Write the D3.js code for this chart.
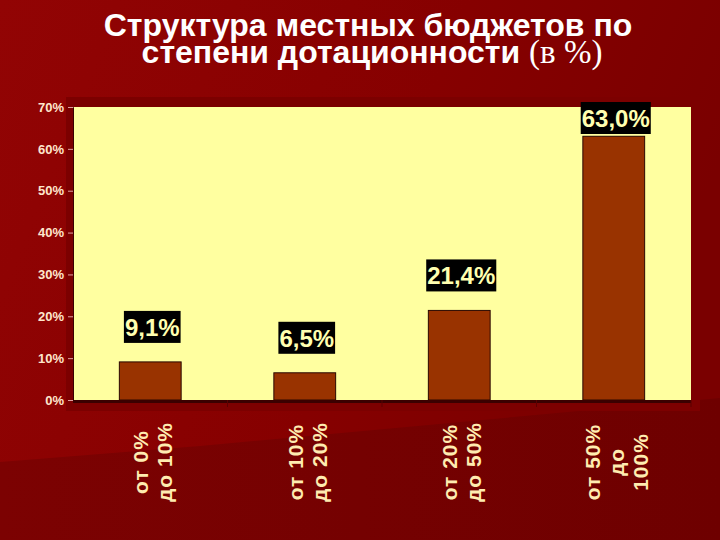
<!DOCTYPE html>
<html lang="ru">
<head>
<meta charset="utf-8" />
<title>Структура местных бюджетов</title>
<script src="https://d3js.org/d3.v7.min.js"></script>
<style>
  html, body { margin: 0; padding: 0; background: #7a0000; }
  svg { display: block; font-family: Arial, "Liberation Sans", sans-serif; }
</style>
</head>
<body>
<div id="chart"></div>
<script>
  // data
  const categories = [["от 0%", "до 10%"], ["от 10%", "до 20%"], ["от 20%", "до 50%"], ["от 50%", "до", "100%"]];
  const values = [0.091, 0.065, 0.214, 0.630];
  const valueLabels = ["9,1%", "6,5%", "21,4%", "63,0%"];
  const yTicks = [0, 0.1, 0.2, 0.3, 0.4, 0.5, 0.6, 0.7];

  const W = 720, H = 540;
  const plot = { left: 73, right: 691, top: 107, bottom: 400 };

  const svg = d3.select("#chart").append("svg")
    .attr("width", W).attr("height", H);

  // background
  const defs = svg.append("defs");
  const g1 = defs.append("linearGradient").attr("id", "bgTop")
    .attr("x1", 0).attr("y1", 0).attr("x2", 1).attr("y2", 0.3);
  g1.append("stop").attr("offset", 0).attr("stop-color", "#920404");
  g1.append("stop").attr("offset", 0.6).attr("stop-color", "#860000");
  g1.append("stop").attr("offset", 1).attr("stop-color", "#7a0000");
  const g2 = defs.append("linearGradient").attr("id", "bgBot")
    .attr("x1", 0).attr("y1", 0).attr("x2", 1).attr("y2", 0);
  g2.append("stop").attr("offset", 0).attr("stop-color", "#7c0202");
  g2.append("stop").attr("offset", 1).attr("stop-color", "#6e0000");

  svg.append("rect").attr("width", W).attr("height", H).attr("fill", "url(#bgTop)");
  svg.append("path")
    .attr("d", "M0,462 L200,446 L720,398 L720,540 L0,540 Z")
    .attr("fill", "url(#bgBot)");

  // title
  const title = svg.append("text")
    .attr("text-anchor", "middle")
    .attr("fill", "#ffffff")
    .attr("font-weight", "bold")
    .attr("font-size", 32);
  title.append("tspan").attr("x", 368).attr("y", 36).text("Структура местных бюджетов по");
  const t2 = title.append("tspan").attr("x", 372).attr("y", 63);
  t2.append("tspan").text("степени дотационности ");
  t2.append("tspan")
    .attr("font-family", "'Liberation Serif', 'Times New Roman', serif")
    .attr("font-weight", "normal")
    .attr("font-size", 33)
    .text("(в %)");

  // chart area frame
  svg.append("rect")
    .attr("x", 66).attr("y", 97)
    .attr("width", 634).attr("height", 314)
    .attr("fill", "#7c0000");

  // scales
  const x = d3.scaleBand()
    .domain(d3.range(categories.length))
    .range([plot.left, plot.right])
    .paddingInner(0.6)
    .paddingOuter(0.3);
  const y = d3.scaleLinear()
    .domain([0, 0.7])
    .range([plot.bottom, plot.top]);

  // plot area
  svg.append("rect")
    .attr("x", plot.left).attr("y", plot.top)
    .attr("width", plot.right - plot.left)
    .attr("height", plot.bottom - plot.top)
    .attr("fill", "#ffffa0");

  // y axis
  const yAxis = svg.append("g")
    .attr("transform", `translate(${plot.left},0)`)
    .call(d3.axisLeft(y).tickValues(yTicks).tickFormat(d3.format(".0%")).tickSize(5).tickPadding(4));
  yAxis.select(".domain").attr("stroke", "#3a0000").attr("stroke-width", 1);
  yAxis.selectAll(".tick line").attr("stroke", "#e0a0a0");
  yAxis.selectAll(".tick text")
    .attr("fill", "#ffe6cc")
    .attr("font-size", 13)
    .attr("font-weight", "bold")
    .attr("font-family", "Arial, 'Liberation Sans', sans-serif");

  // bars
  svg.selectAll(".bar")
    .data(values)
    .enter().append("rect")
    .attr("class", "bar")
    .attr("x", (d, i) => x(i))
    .attr("y", d => y(d))
    .attr("width", x.bandwidth())
    .attr("height", d => y(0) - y(d))
    .attr("fill", "#993300")
    .attr("stroke", "#2a0800")
    .attr("stroke-width", 1);

  // x axis line and category separators
  svg.append("line")
    .attr("x1", plot.left).attr("x2", plot.right)
    .attr("y1", plot.bottom + 1.5).attr("y2", plot.bottom + 1.5)
    .attr("stroke", "#3a0000").attr("stroke-width", 3);
  const seps = d3.range(1, categories.length + 1).map(i => plot.left + i * x.step());
  svg.selectAll(".sep")
    .data(seps)
    .enter().append("line")
    .attr("class", "sep")
    .attr("x1", d => d).attr("x2", d => d)
    .attr("y1", plot.bottom).attr("y2", plot.bottom + 7)
    .attr("stroke", "#5a0000").attr("stroke-width", 1);

  // value labels
  const labels = svg.selectAll(".vlabel")
    .data(values)
    .enter().append("g")
    .attr("class", "vlabel")
    .attr("transform", (d, i) => {
      const cx = x(i) + x.bandwidth() / 2 + 2;
      const by = Math.max(y(d) - 19, 134);
      return `translate(${cx},${by})`;
    });
  labels.append("text")
    .attr("text-anchor", "middle")
    .attr("y", -7)
    .attr("fill", "#ffffb0")
    .attr("font-size", 24)
    .attr("font-weight", "bold")
    .text((d, i) => valueLabels[i])
    .each(function () {
      const b = this.getBBox();
      d3.select(this.parentNode).insert("rect", "text")
        .attr("x", b.x - 1).attr("y", -32)
        .attr("width", b.width + 2).attr("height", 32)
        .attr("fill", "#000000");
    });

  // category labels (rotated)
  const cat = svg.selectAll(".cat")
    .data(categories)
    .enter().append("text")
    .attr("class", "cat")
    .attr("transform", (d, i) => `translate(${x(i) + x.bandwidth() / 2 + 3},462) rotate(-90)`)
    .attr("text-anchor", "middle")
    .attr("fill", "#ffecb0")
    .attr("font-size", 21)
    .attr("font-weight", "bold")
    .attr("letter-spacing", 1);
  cat.each(function (lines) {
    const n = lines.length;
    const t = d3.select(this);
    lines.forEach((s, k) => {
      t.append("tspan")
        .attr("x", 0)
        .attr("y", (k - (n - 1) / 2) * 24 + 7)
        .text(s);
    });
  });
</script>
</body>
</html>
